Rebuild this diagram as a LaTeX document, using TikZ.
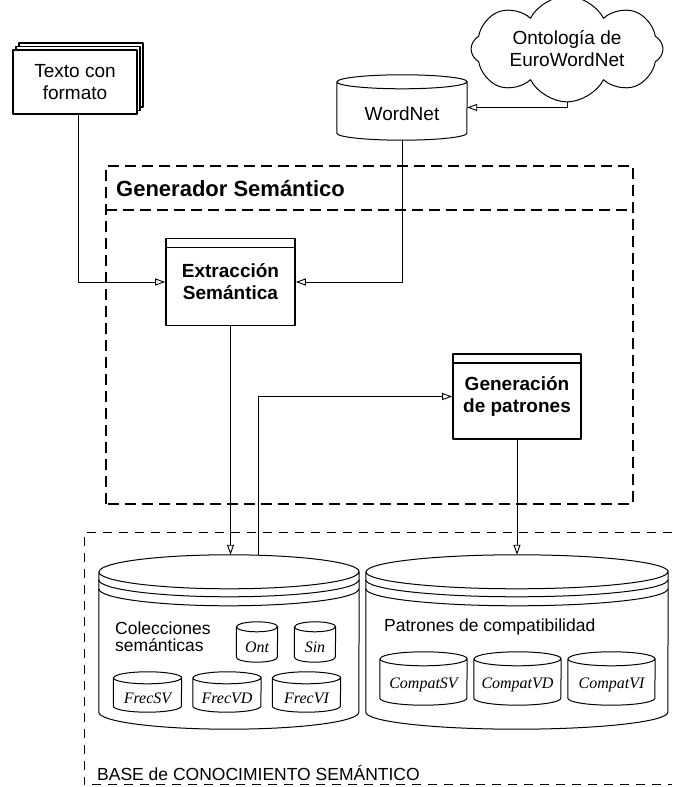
\documentclass[tikz,border=0pt]{standalone}
\usepackage{fontspec}
\setmainfont{Liberation Sans}
\newfontfamily\timesfont{Liberation Serif}
\usetikzlibrary{arrows.meta,shapes.symbols,shadows}

\newcommand{\ittext}{\timesfont\itshape\fontsize{16}{18}\selectfont}
\newcommand{\dbcyl}[6]{%
  \node[inner sep=0pt,minimum width=#4pt,minimum height=#5pt] (#1) at (#2,#3) {};
  \draw[cyl] ([yshift=-#6pt]#1.north west) -- ([yshift=#6pt]#1.south west)
    arc[start angle=180,end angle=360,x radius=#4pt/2,y radius=#6pt]
    -- ([yshift=-#6pt]#1.north east)
    arc[start angle=0,end angle=180,x radius=#4pt/2,y radius=#6pt] -- cycle
    ([yshift=-#6pt]#1.north west)
    arc[start angle=180,end angle=360,x radius=#4pt/2,y radius=#6pt];
}

\begin{document}
\begin{tikzpicture}[x=1pt,y=1pt,>={Triangle[open,length=10pt,width=7pt]},line join=round,
    cyl/.style={draw,fill=white,line width=1pt},
    elbow/.style={to path={|- (\tikztotarget)}},
    txt/.style={font=\fontsize{19}{22}\selectfont,align=center},
    proc node/.style={draw,line width=1.6pt,fill=white,minimum width=129pt,minimum height=87pt,inner sep=2pt,align=center,font=\bfseries\fontsize{19}{22}\selectfont,
        path picture={\draw[line width=1.6pt] ([yshift=-9pt]path picture bounding box.north west) -- ([yshift=-9pt]path picture bounding box.north east);}},
    gen box/.style={line width=1.8pt,dash pattern=on 11pt off 6pt},
    base box/.style={line width=1pt,dash pattern=on 9pt off 7pt}]

            \useasboundingbox (0,0) rectangle (672,787);

            \draw[base box] (672,254) -- (84,254) -- (84,2) -- (672,2);
            \node[anchor=west,inner sep=0pt,font=\fontsize{17.5}{20}\selectfont] (baselbl) at (97,14) {BASE de CONOCIMIENTO SEMÁNTICO};

            \draw[gen box] (106,283) rectangle (633,621);
            \draw[gen box] (106,577) -- (633,577);
            \node[anchor=west,inner sep=0pt,font=\bfseries\fontsize{22}{26}\selectfont] (genlbl) at (116,598) {Generador Semántico};

            \node[txt,draw,fill=white,line width=1.3pt,minimum width=124pt,minimum height=64pt,double copy shadow={shadow xshift=3pt,shadow yshift=3.5pt}] (texto) at (75,705) {Texto con\\formato};
            \node[txt,cloud,draw,fill=white,line width=1pt,cloud puffs=8,cloud puff arc=125,aspect=2.2,minimum width=192pt,minimum height=84pt,inner sep=0pt] (onto) at (567,738) {Ontología de\\EuroWordNet};
            \dbcyl{wn}{402}{679.5}{130}{65}{7}
            \node[txt] (wnl) at (402,673) {WordNet};

            \node[proc node] (extr) at (230.5,505) {Extracción\\Semántica};
            \node[proc node,minimum width=128pt,minimum height=85pt] (gen) at (517,390.5) {Generación\\de patrones};

            \dbcyl{colec}{229}{145}{260}{174}{17}
            \dbcyl{patr}{517}{145}{302}{174}{17}
            \foreach \rim in {25pt,34pt} {
                \draw[line width=1pt] ([yshift=-\rim]colec.north west) arc[start angle=180,end angle=360,x radius=130pt,y radius=17pt];
                \draw[line width=1pt] ([yshift=-\rim]patr.north west) arc[start angle=180,end angle=360,x radius=151pt,y radius=17pt];
            }

            \node[anchor=west,inner sep=0pt,align=left,font=\fontsize{17.5}{17}\selectfont] (colecl) at (115,150.5) {Colecciones\\semánticas};
            \node[anchor=west,inner sep=0pt,font=\fontsize{17.5}{20}\selectfont] (patrl) at (384,160) {Patrones de compatibilidad};

            \dbcyl{ont}{257}{145}{41}{40}{5}
            \dbcyl{sin}{315}{145}{41}{40}{5}
            \node[font=\ittext] (ontl) at (257,140) {Ont};
            \node[font=\ittext] (sinl) at (315,140) {Sin};

            \foreach \name/\cx in {FrecSV/147.5,FrecVD/227,FrecVI/306.5} {
                \dbcyl{\name}{\cx}{95}{68}{40}{6}
                \node[font=\ittext] (\name l) at (\cx,89) {\name};
            }
            \foreach \name/\cx in {CompatSV/423.5,CompatVD/517.5,CompatVI/611.5} {
                \dbcyl{\name}{\cx}{108.5}{87}{53}{7}
                \node[font=\ittext] (\name l) at (\cx,102) {\name};
            }

            \path[line width=0.9pt]
                (onto.south) edge[->,elbow] (wn.east)
                (wn.south) edge[->,elbow] (extr.east)
                ([xshift=3pt]texto.south) edge[->,elbow] (extr.west)
                (extr.south) edge[->] (extr.south |- colec.north)
                ([xshift=29pt]colec.north) edge[->,elbow] (gen.west)
                (gen.south) edge[->] (gen.south |- patr.north)
                ;
        \end{tikzpicture}
\end{document}
